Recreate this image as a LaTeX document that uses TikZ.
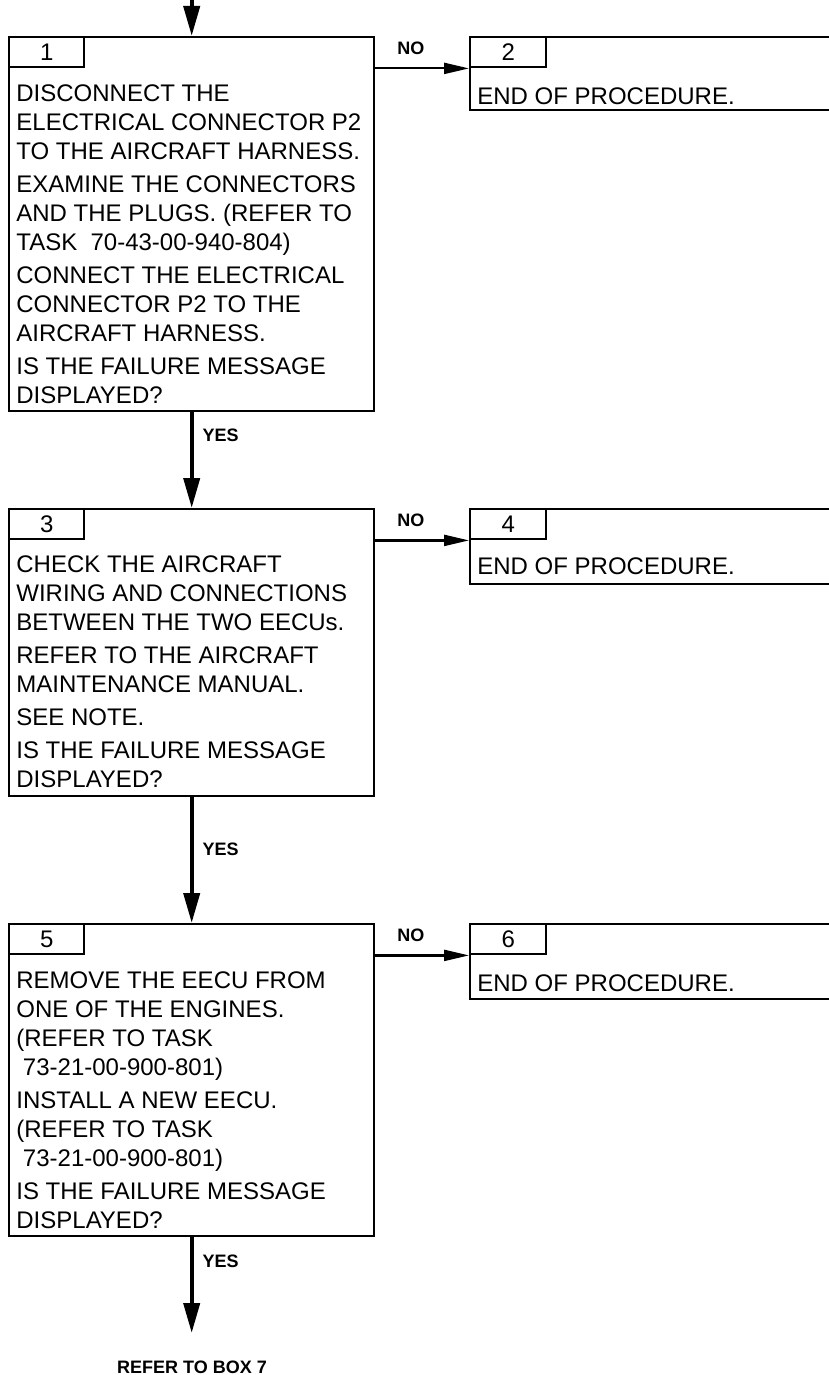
\documentclass[tikz,border=0pt]{standalone}
\usepackage{fontspec}
\setmainfont{Liberation Sans}
\usetikzlibrary{arrows.meta,positioning}

\tikzset{
  stepframe/.style={draw, line width=1.2pt, inner sep=0pt, anchor=north west},
  numtab/.style={draw, line width=1.2pt, inner sep=0pt, anchor=north west,
    minimum width=37.5pt, minimum height=15pt, font=\fontsize{12}{14.5}\selectfont},
  bodytext/.style={align=left, inner sep=0pt, anchor=north west,
    font=\fontsize{12}{14.5}\selectfont},
  flowlabel/.style={inner sep=0pt, font=\fontsize{9}{10}\selectfont\bfseries},
  yesarrow/.style={line width=2pt, -{Triangle[length=15pt,width=8pt]}},
  noarrow/.style={line width=1.1pt, -{Triangle[length=12.5pt,width=5.5pt]}},
}

\begin{document}
\begin{tikzpicture}[x=0.5pt,y=-0.5pt]
\useasboundingbox (0,0) rectangle (829,1375);
\clip (0,0) rectangle (829,1375);

%%%%%%%%%%%% Left column %%%%%%%%%%%%%%%%%%%

% Box 1
\node[stepframe, minimum width=182.5pt, minimum height=187pt] (box1) at (8,36) {};
\node[numtab] (num1) at (box1.north west) {1};
\node[bodytext] (txt1) at ([xshift=4pt,yshift=-7.9pt]num1.south west)
  {DISCONNECT THE\\
   ELECTRICAL CONNECTOR P2\\
   TO THE AIRCRAFT HARNESS.\\[2pt]
   EXAMINE THE CONNECTORS\\
   AND THE PLUGS. (REFER TO\\
   TASK~~70-43-00-940-804)\\[2pt]
   CONNECT THE ELECTRICAL\\
   CONNECTOR P2 TO THE\\
   AIRCRAFT HARNESS.\\[2pt]
   IS THE FAILURE MESSAGE\\
   DISPLAYED?};

% Box 3
\node[stepframe, minimum width=182.5pt, minimum height=143.5pt] (box3) at (8,508) {};
\node[numtab] (num3) at (box3.north west) {3};
\node[bodytext] (txt3) at ([xshift=4pt,yshift=-7.3pt]num3.south west)
  {CHECK THE AIRCRAFT\\
   WIRING AND CONNECTIONS\\
   BETWEEN THE TWO EECUs.\\[2pt]
   REFER TO THE AIRCRAFT\\
   MAINTENANCE MANUAL.\\[2pt]
   SEE NOTE.\\[2pt]
   IS THE FAILURE MESSAGE\\
   DISPLAYED?};

% Box 5
\node[stepframe, minimum width=182.5pt, minimum height=156pt] (box5) at (8,923) {};
\node[numtab] (num5) at (box5.north west) {5};
\node[bodytext] (txt5) at ([xshift=4pt,yshift=-8.2pt]num5.south west)
  {REMOVE THE EECU FROM\\
   ONE OF THE ENGINES.\\
   (REFER TO TASK\\
   \hspace*{3.3pt}73-21-00-900-801)\\[2pt]
   INSTALL A NEW EECU.\\
   (REFER TO TASK\\
   \hspace*{3.3pt}73-21-00-900-801)\\[2pt]
   IS THE FAILURE MESSAGE\\
   DISPLAYED?};

%%%%%%%%%%%% Right column %%%%%%%%%%%%%%%%%%%

% Box 2
\node[stepframe, minimum width=190.5pt, minimum height=36.5pt] (box2) at (469,36) {};
\node[numtab, minimum width=38pt] (num2) at (box2.north west) {2};
\node[bodytext] (txt2) at ([xshift=4pt,yshift=-9.4pt]num2.south west) {END OF PROCEDURE.};

% Box 4
\node[stepframe, minimum width=190.5pt, minimum height=37.5pt] (box4) at (469,508) {};
\node[numtab, minimum width=38pt] (num4) at (box4.north west) {4};
\node[bodytext] (txt4) at ([xshift=4pt,yshift=-8.4pt]num4.south west) {END OF PROCEDURE.};

% Box 6
\node[stepframe, minimum width=190.5pt, minimum height=37.5pt] (box6) at (469,923) {};
\node[numtab, minimum width=38pt] (num6) at (box6.north west) {6};
\node[bodytext] (txt6) at ([xshift=4pt,yshift=-9.6pt]num6.south west) {END OF PROCEDURE.};

%%%%%%%%%%%% Connectors %%%%%%%%%%%%%%%%%%%

\coordinate (in1) at (box1.north |- 0,0);
\coordinate (tip7) at (box5.south |- 0,1333);
\node[flowlabel] (ref7) at (192,1367) {REFER TO BOX 7};

%Arrows YES
\draw[yesarrow] (in1) -- (box1.north);
\draw[yesarrow] (box1.south) -- (box3.north) node[flowlabel, pos=0.24, right=4.5pt] (yes1) {YES};
\draw[yesarrow] (box3.south) -- (box5.north) node[flowlabel, pos=0.41, right=4.5pt] (yes3) {YES};
\draw[yesarrow] (box5.south) -- (tip7) node[flowlabel, pos=0.25, right=4.5pt] (yes5) {YES};

%Arrows NO
\draw[noarrow] (box1.east |- num1.south) -- (box2.west |- num1.south) node[flowlabel, pos=0.38, above=6.5pt] (no1) {NO};
\draw[noarrow] (box3.east |- num3.south) -- (box4.west |- num3.south) node[flowlabel, pos=0.38, above=6.5pt] (no3) {NO};
\draw[noarrow] (box5.east |- num5.south) -- (box6.west |- num5.south) node[flowlabel, pos=0.38, above=6.5pt] (no5) {NO};

\end{tikzpicture}
\end{document}
